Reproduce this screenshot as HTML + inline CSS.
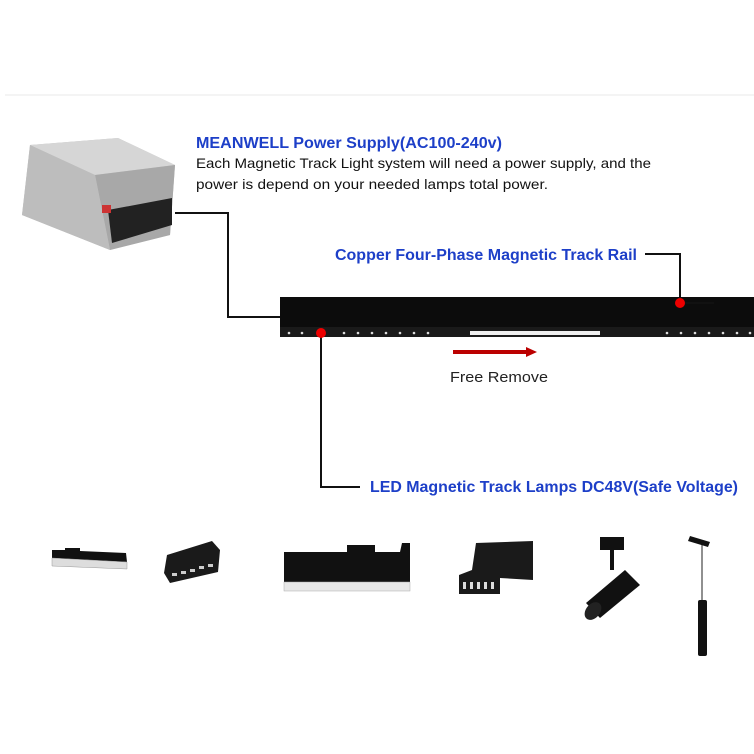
<!DOCTYPE html>
<html><head><style>
body{margin:0;background:#fff;}
svg{display:block;font-family:"Liberation Sans",sans-serif;}
</style></head><body>
<svg width="754" height="754" viewBox="0 0 754 754">
<line x1="5" y1="95" x2="754" y2="95" stroke="#e8e8e8" stroke-width="1"/>
<!-- power supply -->
<polygon points="30,145 118,138 175,165 170,235 110,250 22,215" fill="#c2c2c2"/>
<polygon points="30,145 118,138 175,165 95,175" fill="#d6d6d6"/>
<polygon points="95,175 175,165 170,235 110,250" fill="#a8a8a8"/>
<polygon points="30,145 95,175 110,250 22,215" fill="#bdbdbd"/>
<polygon points="108,210 172,198 172,225 112,243" fill="#222"/>
<rect x="102" y="205" width="9" height="8" fill="#c33"/>
<!-- connector -->
<polyline points="175,213 228,213 228,317 280,317" fill="none" stroke="#111" stroke-width="2"/>
<text x="196" y="148" font-size="16" font-weight="bold" fill="#1d3fc8" textLength="306" lengthAdjust="spacingAndGlyphs">MEANWELL Power Supply(AC100-240v)</text>
<text x="196" y="168" font-size="14" fill="#111" textLength="455" lengthAdjust="spacingAndGlyphs">Each Magnetic Track Light system will need a power supply, and the</text>
<text x="196" y="189" font-size="14" fill="#111" textLength="352" lengthAdjust="spacingAndGlyphs">power is depend on your needed lamps total power.</text>
<!-- rail -->
<rect x="280" y="297" width="474" height="40" fill="#0c0c0c"/>
<rect x="280" y="327" width="474" height="10" fill="#1a1a1a"/>
<rect x="470" y="331" width="130" height="4" fill="#eee"/>
<g fill="#ddd">
<circle cx="289" cy="333" r="1.3"/><circle cx="302" cy="333" r="1.3"/><circle cx="344" cy="333" r="1.3"/><circle cx="358" cy="333" r="1.3"/><circle cx="372" cy="333" r="1.3"/><circle cx="386" cy="333" r="1.3"/><circle cx="400" cy="333" r="1.3"/><circle cx="414" cy="333" r="1.3"/><circle cx="428" cy="333" r="1.3"/>
<circle cx="667" cy="333" r="1.3"/><circle cx="681" cy="333" r="1.3"/><circle cx="695" cy="333" r="1.3"/><circle cx="709" cy="333" r="1.3"/><circle cx="723" cy="333" r="1.3"/><circle cx="737" cy="333" r="1.3"/><circle cx="750" cy="333" r="1.3"/>
</g>
<polyline points="645,254 680,254 680,303 714,303" fill="none" stroke="#111" stroke-width="2"/>
<polyline points="321,333 321,487 360,487" fill="none" stroke="#111" stroke-width="2"/>
<circle cx="321" cy="333" r="5" fill="#e00"/>
<circle cx="680" cy="303" r="5" fill="#e00"/>
<text x="335" y="260" font-size="16" font-weight="bold" fill="#1d3fc8" textLength="302" lengthAdjust="spacingAndGlyphs">Copper Four-Phase Magnetic Track Rail</text>
<text x="370" y="492" font-size="16" font-weight="bold" fill="#1d3fc8" textLength="368" lengthAdjust="spacingAndGlyphs">LED Magnetic Track Lamps DC48V(Safe Voltage)</text>
<rect x="453" y="350" width="74" height="4" fill="#b00"/>
<polygon points="526,347 537,352 526,357" fill="#b00"/>
<text x="450" y="382" font-size="15" fill="#222" textLength="98" lengthAdjust="spacingAndGlyphs">Free Remove</text>
<!-- lamps -->
<polygon points="52,550 65,550 65,548 80,548 80,551 126,553 127,562 52,558" fill="#111"/>
<polygon points="52,558 127,562 127,569 52,566" fill="#ddd" stroke="#999" stroke-width="0.5"/>
<polygon points="167,555 212,541 220,550 218,572 170,583 164,573" fill="#1a1a1a"/>
<g fill="#ccc"><rect x="172" y="573" width="5" height="3"/><rect x="181" y="571" width="5" height="3"/><rect x="190" y="569" width="5" height="3"/><rect x="199" y="566" width="5" height="3"/><rect x="208" y="564" width="5" height="3"/></g>
<polygon points="284,552 347,552 347,545 375,545 375,552 400,552 402,543 410,543 410,588 284,588" fill="#111"/>
<rect x="284" y="582" width="126" height="9" fill="#e8e8e8" stroke="#aaa" stroke-width="0.5"/>
<polygon points="476,543 533,541 533,580 500,578 500,594 459,594 459,575 472,570" fill="#1a1a1a"/>
<g fill="#ddd"><rect x="463" y="582" width="3" height="7"/><rect x="470" y="582" width="3" height="7"/><rect x="477" y="582" width="3" height="7"/><rect x="484" y="582" width="3" height="7"/><rect x="491" y="582" width="3" height="7"/></g>
<rect x="600" y="537" width="24" height="13" fill="#111"/>
<rect x="610" y="550" width="4" height="20" fill="#111"/>
<polygon points="625,570 640,585 600,618 586,603" fill="#111"/>
<ellipse cx="593" cy="611" rx="7" ry="10" transform="rotate(40 593 611)" fill="#222"/>
<polygon points="690,536 710,542 708,547 688,541" fill="#111"/>
<line x1="702" y1="545" x2="702" y2="602" stroke="#222" stroke-width="1"/>
<rect x="698" y="600" width="9" height="56" rx="2" fill="#111"/>
</svg>
</body></html>
